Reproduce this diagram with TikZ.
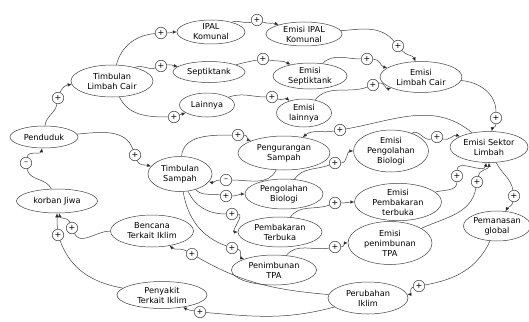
\documentclass[tikz,border=0pt]{standalone}
\usepackage{fontspec}
\setmainfont{DejaVu Sans}
\usetikzlibrary{shapes,arrows.meta}

\begin{document}
\begin{tikzpicture}[x=1pt,y=1pt,
  var/.style={ellipse,draw=black!75,line width=0.5pt,align=center,inner sep=0pt,
    font=\fontsize{8.2}{10}\selectfont},
  sgn/.style={circle,draw=black!75,line width=0.5pt,fill=white,minimum size=11.5pt,
    inner sep=0pt,font=\fontsize{8}{8}\selectfont},
  >={Latex[length=4pt,width=3.5pt]}]
\useasboundingbox (0,0) rectangle (529,-321);
% variables
\node[var,minimum width=68pt,minimum height=24pt] (ipal) at (211,-32) {IPAL\\Komunal};
\node[var,minimum width=76pt,minimum height=24pt] (eipal) at (304,-34) {Emisi IPAL\\Komunal};
\node[var,minimum width=82pt,minimum height=32pt] (tlc) at (112,-81) {Timbulan\\Limbah Cair};
\node[var,minimum width=72pt,minimum height=21pt] (sep) at (209,-72) {Septiktank};
\node[var,minimum width=74pt,minimum height=26pt] (esep) at (310,-76) {Emisi\\Septiktank};
\node[var,minimum width=82pt,minimum height=31pt] (elc) at (421,-77) {Emisi\\Limbah Cair};
\node[var,minimum width=55pt,minimum height=24pt] (lain) at (207,-105) {Lainnya};
\node[var,minimum width=55pt,minimum height=28pt] (elain) at (304,-113) {Emisi\\lainnya};
\node[var,minimum width=68pt,minimum height=22pt] (pend) at (44,-137) {Penduduk};
\node[var,minimum width=92pt,minimum height=34pt] (ps) at (284,-153) {Pengurangan\\Sampah};
\node[var,minimum width=64pt,minimum height=35pt] (ts) at (180,-174) {Timbulan\\Sampah};
\node[var,minimum width=78pt,minimum height=30pt] (pb) at (284,-194) {Pengolahan\\Biologi};
\node[var,minimum width=75pt,minimum height=42pt] (epb) at (391,-151) {Emisi\\Pengolahan\\Biologi};
\node[var,minimum width=78pt,minimum height=31pt] (esl) at (489,-147) {Emisi Sektor\\Limbah};
\node[var,minimum width=81pt,minimum height=24pt] (kj) at (57,-201) {korban Jiwa};
\node[var,minimum width=84pt,minimum height=30pt] (pt) at (280,-232) {Pembakaran\\Terbuka};
\node[var,minimum width=87pt,minimum height=36pt] (ept) at (398,-202) {Emisi\\Pembakaran\\terbuka};
\node[var,minimum width=62pt,minimum height=30pt] (pg) at (497,-226) {Pemanasan\\global};
\node[var,minimum width=83pt,minimum height=32pt] (bti) at (152,-231) {Bencana\\Terkait Iklim};
\node[var,minimum width=85pt,minimum height=30pt] (pen) at (274,-270) {Penimbunan\\TPA};
\node[var,minimum width=84pt,minimum height=43pt] (epen) at (390,-243) {Emisi\\penimbunan\\TPA};
\node[var,minimum width=80pt,minimum height=32pt] (pi) at (368,-298) {Perubahan\\Iklim};
\node[var,minimum width=90pt,minimum height=27pt] (pti) at (162,-295) {Penyakit\\Terkait Iklim};
% polarity signs
\node[sgn] (s1) at (58,-98) {+};
\node[sgn] (s2) at (135,-155) {+};
\node[sgn] (s3) at (26,-163) {--};
\node[sgn] (s4) at (161,-33) {+};
\node[sgn] (s5) at (161,-66) {+};
\node[sgn] (s6) at (174,-117) {+};
\node[sgn] (s7) at (257,-20) {+};
\node[sgn] (s8) at (263,-59) {+};
\node[sgn] (s9) at (272,-97) {+};
\node[sgn] (s10) at (398,-46) {+};
\node[sgn] (s11) at (367,-59) {+};
\node[sgn] (s12) at (373,-85) {+};
\node[sgn] (s13) at (496,-118) {+};
\node[sgn] (s14) at (340,-130) {+};
\node[sgn] (s15) at (226,-180) {--};
\node[sgn] (s16) at (238,-135) {+};
\node[sgn] (s17) at (226,-196) {+};
\node[sgn] (s18) at (232,-214) {+};
\node[sgn] (s19) at (232,-248) {+};
\node[sgn] (s20) at (335,-163) {+};
\node[sgn] (s21) at (335,-203) {+};
\node[sgn] (s22) at (335,-247) {+};
\node[sgn] (s23) at (437,-137) {+};
\node[sgn] (s24) at (457,-176) {+};
\node[sgn] (s25) at (477,-182) {+};
\node[sgn] (s26) at (514,-196) {+};
\node[sgn] (s27) at (419,-286) {+};
\node[sgn] (s28) at (192,-254) {+};
\node[sgn] (s29) at (200,-312) {+};
\node[sgn] (s30) at (72,-228) {+};
\node[sgn] (s31) at (58,-235) {+};
% links
\path[draw=black!75,line width=0.5pt]
  (pend) edge[out=85,in=-100] (s1)
  (s1) edge[->,out=70,in=185] (tlc)
  (pend) edge[out=5,in=110] (s2)
  (s2) edge[->,out=-70,in=165] (ts)
  (kj) edge[out=115,in=-80] (s3)
  (s3) edge[->,out=80,in=-100] (pend)
  (tlc) edge[out=75,in=185] (s4)
  (s4) edge[->,out=0,in=180] (ipal)
  (tlc) edge[out=30,in=200] (s5)
  (s5) edge[->,out=10,in=170] (sep)
  (tlc) edge[out=-65,in=180] (s6)
  (s6) edge[->,out=20,in=200] (lain)
  (ipal) edge[out=25,in=200] (s7)
  (s7) edge[->,out=-20,in=160] (eipal)
  (sep) edge[out=15,in=190] (s8)
  (s8) edge[->,out=-10,in=150] (esep)
  (lain) edge[out=20,in=180] (s9)
  (s9) edge[->,out=-20,in=140] (elain)
  (eipal) edge[out=5,in=130] (s10)
  (s10) edge[->,out=-50,in=110] (elc)
  (esep) edge[out=45,in=180] (s11)
  (s11) edge[->,out=0,in=165] (elc)
  (elain) edge[out=50,in=200] (s12)
  (s12) edge[->,out=20,in=200] (elc)
  (elc) edge[out=-5,in=90] (s13)
  (s13) edge[->,out=-90,in=80] (esl)
  (esl) edge[out=140,in=10] (s14)
  (s14) edge[->,out=190,in=40] (ps)
  (ps) edge[out=-115,in=0] (s15)
  (s15) edge[->,out=180,in=-15] (ts)
  (ts) edge[out=85,in=180] (s16)
  (s16) edge[->,out=0,in=160] (ps)
  (ts) edge[out=-45,in=170] (s17)
  (s17) edge[->,out=0,in=180] (pb)
  (ts) edge[out=-65,in=180] (s18)
  (s18) edge[->,out=0,in=180] (pt)
  (ts) edge[out=-80,in=160] (s19)
  (s19) edge[->,out=-10,in=160] (pen)
  (pb) edge[out=55,in=200] (s20)
  (s20) edge[->,out=0,in=180] (epb)
  (pt) edge[out=55,in=200] (s21)
  (s21) edge[->,out=0,in=180] (ept)
  (pen) edge[out=50,in=190] (s22)
  (s22) edge[->,out=0,in=180] (epen)
  (epb) edge[out=40,in=200] (s23)
  (s23) edge[->,out=-20,in=160] (esl)
  (ept) edge[out=15,in=-90] (s24)
  (s24) edge[->,out=90,in=-100] (esl)
  (epen) edge[out=25,in=-100] (s25)
  (s25) edge[->,out=80,in=-90] (esl)
  (esl) edge[out=-65,in=100] (s26)
  (s26) edge[->,out=-100,in=60] (pg)
  (pg) edge[out=-115,in=10] (s27)
  (s27) edge[->,out=190,in=5] (pi)
  (pi) edge[out=175,in=-30] (s28)
  (s28) edge[->,out=150,in=-40] (bti)
  (pi) edge[out=-165,in=-5] (s29)
  (s29) edge[->,out=170,in=-30] (pti)
  (bti) edge[out=180,in=-65] (s30)
  (s30) edge[->,out=110,in=-80] (kj)
  (pti) edge[out=170,in=-70] (s31)
  (s31) edge[->,out=95,in=-90] (kj)
;
\end{tikzpicture}
\end{document}
